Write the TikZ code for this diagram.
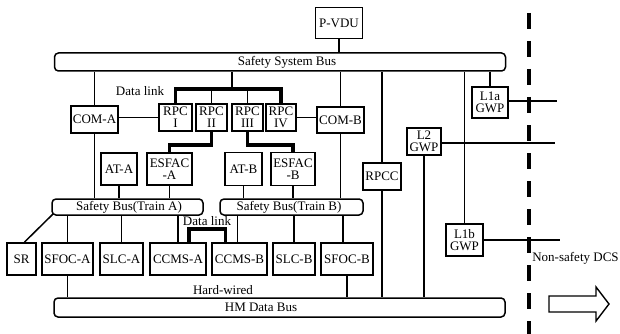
\documentclass[tikz,border=0pt]{standalone}
\usepackage{fontspec}
\setmainfont{Liberation Serif}
\usetikzlibrary{positioning,calc}

\tikzset{
    unit/.style={draw,line width=1.8pt,inner sep=0pt,align=center,font=\fontsize{13}{12}\selectfont},
    bus/.style={draw,line width=1.5pt,rounded corners=4pt,inner sep=0pt},
    wire/.style={line width=1.5pt},
    link/.style={line width=3.6pt},
    lbl/.style={inner sep=0pt,font=\fontsize{13}{15}\selectfont}
}

\begin{document}
\begin{tikzpicture}[x=1pt,y=-1pt]
    \useasboundingbox (0,0) rectangle (620,334);
    % Buses
    \node[bus,minimum width=451,minimum height=18] (ssbus) at (280,62) {};
    \node[lbl] (ssbustext) at (287,62) {Safety System Bus};
    \node[bus,minimum width=151,minimum height=16] (busa) at (127.5,207) {};
    \node[lbl] (busatext) at (129,207) {Safety Bus(Train A)};
    \node[bus,minimum width=143,minimum height=16] (busb) at (291.5,207) {};
    \node[lbl] (busbtext) at (289,207) {Safety Bus(Train B)};
    \node[bus,minimum width=451,minimum height=19] (hmbus) at (279.5,307.5) {};
    \node[lbl] (hmbustext) at (261,307.5) {HM Data Bus};
    % Top units
    \node[unit,minimum width=47,minimum height=31] (pvdu) at (339,23) {P-VDU};
    \node[unit,minimum width=47,minimum height=27] (coma) at (94.5,119.5) {COM-A};
    \node[unit,minimum width=33,minimum height=27] (rpc1) at (175.5,117.5) {RPC\\I};
    \node[unit,minimum width=31,minimum height=27] (rpc2) at (211.5,117.5) {RPC\\II};
    \node[unit,minimum width=31,minimum height=27] (rpc3) at (247.5,117.5) {RPC\\III};
    \node[unit,minimum width=30,minimum height=27] (rpc4) at (281,117.5) {RPC\\IV};
    \node[unit,minimum width=47,minimum height=26] (comb) at (340.5,120) {COM-B};
    \node[unit,minimum width=36,minimum height=32] (ata) at (119,169) {AT-A};
    \node[unit,minimum width=45,minimum height=32] (esfaca) at (169.5,169) {ESFAC\\-A};
    \node[unit,minimum width=37,minimum height=33] (atb) at (243.5,169) {AT-B};
    \node[unit,minimum width=44,minimum height=33] (esfacb) at (293,169) {ESFAC\\-B};
    \node[unit,minimum width=38,minimum height=27] (rpcc) at (382,176.5) {RPCC};
    \node[unit,minimum width=36,minimum height=31] (l1a) at (490,102.5) {L1a\\GWP};
    \node[unit,minimum width=34,minimum height=27] (l2) at (424,141.5) {L2\\GWP};
    \node[unit,minimum width=37,minimum height=32] (l1b) at (464.5,240) {L1b\\GWP};
    % Bottom row
    \node[unit,minimum width=29,minimum height=32] (sr) at (21.5,259) {SR};
    \node[unit,minimum width=51,minimum height=32] (sfoca) at (67.5,259) {SFOC-A};
    \node[unit,minimum width=43,minimum height=32] (slca) at (121.5,259) {SLC-A};
    \node[unit,minimum width=56,minimum height=32] (ccmsa) at (178,259) {CCMS-A};
    \node[unit,minimum width=55,minimum height=32] (ccmsb) at (239.5,259) {CCMS-B};
    \node[unit,minimum width=42,minimum height=32] (slcb) at (294,259) {SLC-B};
    \node[unit,minimum width=52,minimum height=32] (sfocb) at (347,259) {SFOC-B};
    % Labels
    \node[lbl] (dlinka) at (140,91) {Data link};
    \node[lbl] (dlinkb) at (207,221.5) {Data link};
    \node[lbl] (hardwired) at (223,290) {Hard-wired};
    \node[lbl] (dcs) at (575.5,258) {Non-safety DCS};
    % Safety System Bus connections
    \draw[wire] (pvdu.south) -- (pvdu.south |- ssbus.north);
    \draw[wire] (coma.north) -- (coma.north |- ssbus.south);
    \draw[wire] (comb.north) -- (comb.north |- ssbus.south);
    \draw[wire] (rpcc.north) -- (rpcc.north |- ssbus.south);
    \draw[wire] (l1a.north) -- (l1a.north |- ssbus.south);
    \draw[wire] (l1b.north) -- (l1b.north |- ssbus.south);
    % Data link between RPCs
    \coordinate (dl) at (232,89);
    \draw[wire] (dl) -- (dl |- ssbus.south);
    \draw[link] (rpc1.north) |- (dl) -| (rpc4.north);
    \draw[wire] (rpc2.north) -- (rpc2.north |- dl);
    \draw[wire] (rpc3.north) -- (rpc3.north |- dl);
    \draw[wire] (rpc1.west) -- (rpc1.west -| coma.east);
    \draw[wire] (rpc4.east) -- (rpc4.east -| comb.west);
    \draw[link] (rpc2.south) -- ++(0,13) -| (esfaca.north);
    \draw[link] (rpc3.south) -- ++(0,13) -| (esfacb.north);
    % Train A
    \draw[wire] (coma.south) -- (coma.south |- busa.north);
    \draw[wire] (ata.south) -- (ata.south |- busa.north);
    \draw[wire] (esfaca.south) -- (esfaca.south |- busa.north);
    \draw[wire] ([xshift=3pt]sr.north) -- ([xshift=2pt,yshift=2pt]busa.south west);
    \draw[wire] (sfoca.north) -- (sfoca.north |- busa.south);
    \draw[wire] (slca.north) -- (slca.north |- busa.south);
    \draw[wire] (ccmsa.north) -- (ccmsa.north |- busa.south);
    % Train B
    \draw[wire] (comb.south) -- (comb.south |- busb.north);
    \draw[wire] (atb.south) -- (atb.south |- busb.north);
    \draw[wire] (esfacb.south) -- (esfacb.south |- busb.north);
    \draw[wire] ([xshift=-2pt]ccmsb.north) -- ([xshift=-2pt]ccmsb.north |- busb.south);
    \draw[wire] (slcb.north) -- (slcb.north |- busb.south);
    \draw[wire] ([xshift=-4pt]sfocb.north) -- ([xshift=-4pt]sfocb.north |- busb.south);
    % Data link between CCMS
    \draw[link] ([xshift=11pt]ccmsa.north) -- ++(0,-13) -| ([xshift=-14pt]ccmsb.north);
    % HM Data Bus connections
    \draw[wire] (sfoca.south) -- (sfoca.south |- hmbus.north);
    \draw[wire] (sfocb.south) -- (sfocb.south |- hmbus.north);
    \draw[wire] (rpcc.south) -- (rpcc.south |- hmbus.north);
    \draw[wire] (l2.south) -- (l2.south |- hmbus.north);
    % Gateways to non-safety side
    \coordinate (end1) at (557,101);
    \coordinate (end2) at (555,143);
    \coordinate (end3) at (560,240);
    \draw[wire] (l1a.east |- end1) -- (end1);
    \draw[wire] (l2.east |- end2) -- (end2);
    \draw[wire] (l1b.east) -- (l1b.east -| end3);
    % Border line and arrow
    \coordinate (divtop) at (529,13);
    \coordinate (divbot) at (529,334);
    \draw[line width=4pt,dash pattern=on 16pt off 12pt] (divtop) -- (divbot);
    \draw[line width=1.4pt] (549,296) -- (596,296) -- (596,287) -- (609,304) -- (596,321) -- (596,312) -- (549,312) -- cycle;
\end{tikzpicture}
\end{document}
